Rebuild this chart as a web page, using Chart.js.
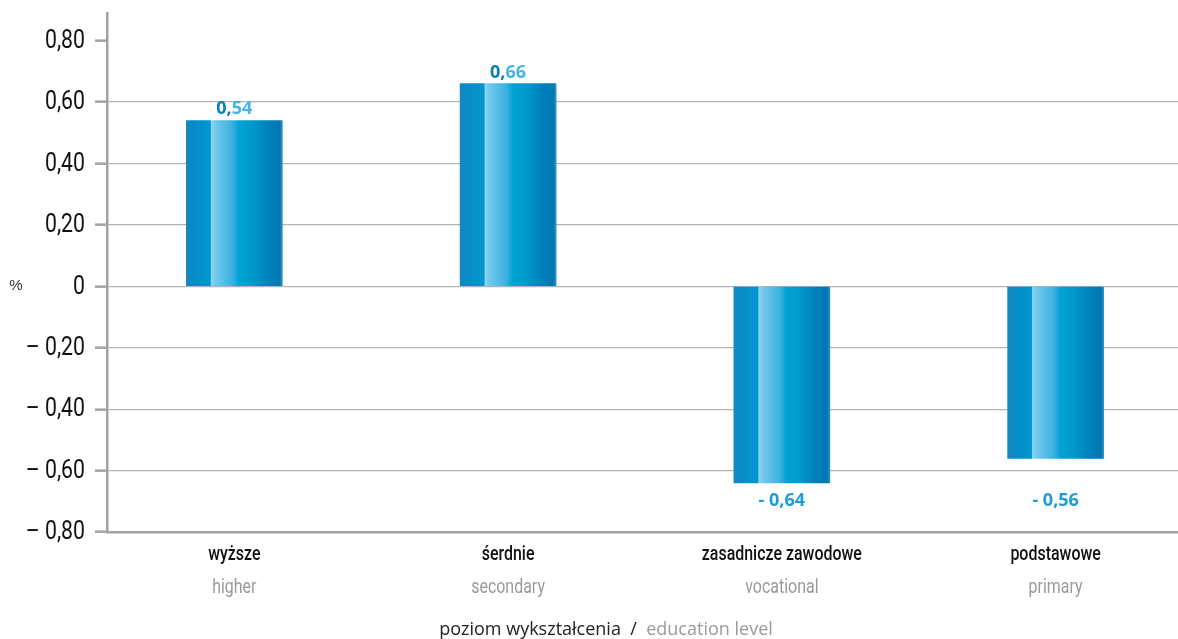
<!DOCTYPE html>
<html lang="pl">
<head>
<meta charset="utf-8">
<title>Poziom wykształcenia</title>
<script src="https://cdn.jsdelivr.net/npm/chart.js@4/dist/chart.umd.min.js"></script>
<style>
  html, body { margin: 0; padding: 0; background: #fff; }
  #wrap { width: 1178px; height: 639px; }
</style>
</head>
<body>
<div id="wrap"><canvas id="chart" width="1178" height="639"></canvas></div>
<script>
// categories (Polish / English) and values in %
const labelsPl = ['wyższe', 'śerdnie', 'zasadnicze zawodowe', 'podstawowe'];
const labelsEn = ['higher', 'secondary', 'vocational', 'primary'];
const values = [0.54, 0.66, -0.64, -0.56];
const valueLabels = ['0,54', '0,66', '- 0,64', '- 0,56'];

const FONT_AXIS = 'Roboto, "Liberation Sans", sans-serif';
const FONT_TEXT = '"Open Sans", "Noto Sans", sans-serif';
const AXIS_GREY = '#a3a3a3';

// format ticks like 0,80 / – 0,20
function fmtTick(v) {
  if (Math.abs(v) < 1e-9) return '0';
  const s = Math.abs(v).toFixed(2).replace('.', ',');
  return v < 0 ? '– ' + s : s;
}

// cylinder-like shading across each bar
function barGradient(ctx) {
  const chart = ctx.chart;
  const xs = chart.scales.x;
  if (!xs || !ctx.parsed) return '#0096d0';
  const cx = xs.getPixelForValue(ctx.parsed.x);
  if (!isFinite(cx)) return '#0096d0';
  const g = chart.ctx.createLinearGradient(cx - 48, 0, cx + 48, 0);
  g.addColorStop(0, '#1a86c0');
  g.addColorStop(0.05, '#0a8ac4');
  g.addColorStop(0.25, '#0097d0');
  g.addColorStop(0.26, '#8dd5f2');
  g.addColorStop(0.31, '#70c7ec');
  g.addColorStop(0.48, '#3db1e1');
  g.addColorStop(0.55, '#00a3d4');
  g.addColorStop(0.68, '#009acc');
  g.addColorStop(0.86, '#0080ba');
  g.addColorStop(0.97, '#0078b3');
  g.addColorStop(1, '#2a8fc4');
  return g;
}

// text squeezed horizontally to get a condensed face
function narrowText(c, text, x, y, sx) {
  c.save();
  c.translate(x, y);
  c.scale(sx, 1);
  c.fillText(text, 0, 0);
  c.restore();
}

// texts around the plot: tick labels, value labels, category names, unit and axis title
const textPlugin = {
  id: 'texts',
  afterDraw(chart) {
    const c = chart.ctx;
    const xs = chart.scales.x;
    const ys = chart.scales.y;
    c.save();

    // y tick labels
    c.font = '25px ' + FONT_AXIS;
    c.fillStyle = '#111';
    c.textAlign = 'right';
    c.textBaseline = 'middle';
    ys.ticks.forEach(t => {
      narrowText(c, fmtTick(t.value), 85, ys.getPixelForValue(t.value) + 1, 0.85);
    });

    // unit next to the zero line
    c.font = '15px "Liberation Sans", sans-serif';
    c.fillStyle = '#333';
    c.textAlign = 'center';
    c.fillText('%', 16, ys.getPixelForValue(0));

    // value labels: above positive bars, negative ones share a row under the lowest bar
    const lowRow = ys.getPixelForValue(Math.min(...values)) + 18;
    c.font = 'bold 18px ' + FONT_TEXT;
    values.forEach((v, i) => {
      const x = xs.getPixelForValue(i);
      const yEnd = ys.getPixelForValue(v);
      const txt = valueLabels[i];
      if (v >= 0) {
        c.textBaseline = 'alphabetic';
        const head = txt.slice(0, 2);
        const tail = txt.slice(2);
        const w1 = c.measureText(head).width;
        const w = c.measureText(txt).width;
        const x0 = x - w / 2;
        c.textAlign = 'left';
        c.fillStyle = '#0a7fb9';
        c.fillText(head, x0, yEnd - 6);
        c.fillStyle = '#45b5e5';
        c.fillText(tail, x0 + w1, yEnd - 6);
      } else {
        c.textBaseline = 'middle';
        c.textAlign = 'center';
        c.fillStyle = '#1c9dd7';
        c.fillText(txt, x, lowRow);
      }
    });

    // category names
    c.textAlign = 'center';
    c.textBaseline = 'middle';
    labelsPl.forEach((t, i) => {
      const x = xs.getPixelForValue(i);
      c.font = '500 21px ' + FONT_AXIS;
      c.fillStyle = '#111';
      narrowText(c, t, x, 555, 0.76);
      c.font = '21px ' + FONT_AXIS;
      c.fillStyle = '#9a9a9a';
      narrowText(c, labelsEn[i], x, 588, 0.76);
    });

    // axis title
    c.font = '18px ' + FONT_TEXT;
    const parts = [['poziom wykształcenia', '#222'], ['  /  ', '#222'], ['education level', '#9a9a9a']];
    const total = parts.reduce((s, p) => s + c.measureText(p[0]).width, 0);
    let px = 606 - total / 2;
    c.textAlign = 'left';
    parts.forEach(p => {
      c.fillStyle = p[1];
      c.fillText(p[0], px, 630);
      px += c.measureText(p[0]).width;
    });

    c.restore();
  }
};

new Chart(document.getElementById('chart'), {
  type: 'bar',
  data: {
    datasets: [{
      data: values.map((v, i) => ({ x: i, y: v })),
      backgroundColor: barGradient,
      borderWidth: 0,
      barThickness: 96
    }]
  },
  options: {
    responsive: false,
    animation: false,
    layout: { padding: { top: 13, bottom: 107, left: 0, right: 0 } },
    plugins: { legend: { display: false }, tooltip: { enabled: false } },
    scales: {
      x: {
        type: 'linear',
        min: -0.465,
        max: 3.447,
        offset: false,
        ticks: { display: false },
        grid: { display: false },
        border: { display: true, color: AXIS_GREY, width: 2.5 },
        afterFit(s) { s.height = 0; s.paddingLeft = 0; s.paddingRight = 0; }
      },
      y: {
        min: -0.8,
        max: 0.89,
        bounds: 'data',
        ticks: {
          stepSize: 0.2,
          includeBounds: false,
          display: false
        },
        grid: {
          color: ctx => (ctx.tick && (ctx.tick.value > 0.7 || ctx.tick.value < -0.7)) ? 'rgba(0,0,0,0)' : '#b3b3b3',
          lineWidth: 1.3,
          tickColor: AXIS_GREY,
          tickWidth: 2.5,
          tickLength: 12
        },
        border: { display: true, color: AXIS_GREY, width: 2.5 },
        afterFit(s) { s.width = 107; s.paddingTop = 0; s.paddingBottom = 0; }
      }
    }
  },
  plugins: [textPlugin]
});
</script>
</body>
</html>
